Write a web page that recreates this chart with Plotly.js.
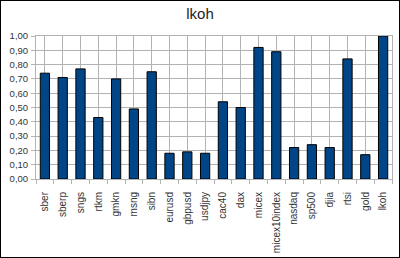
<!DOCTYPE html>
<html><head><meta charset="utf-8">
<script src="https://cdn.plot.ly/plotly-3.0.1.min.js"></script>
<style>html,body{margin:0;padding:0;background:#fff}#wrap{position:relative;width:400px;height:258px}#chart{width:400px;height:258px}#frame{position:absolute;left:0;top:0;width:400px;height:258px;box-sizing:border-box;border:1px solid #000;pointer-events:none}</style>
</head><body>
<div id="wrap"><div id="chart"></div><div id="frame"></div></div>
<script>
var categories = ["sber","sberp","sngs","rtkm","gmkn","msng","sibn","eurusd","gbpusd","usdjpy","cac40","dax","micex","micex10index","nasdaq","sp500","djia","rtsi","gold","lkoh"];
var values = [0.74,0.71,0.77,0.43,0.70,0.49,0.75,0.18,0.19,0.18,0.54,0.50,0.92,0.89,0.22,0.24,0.22,0.84,0.17,1.00];
var yTicks = [0,0.1,0.2,0.3,0.4,0.5,0.6,0.7,0.8,0.9,1.0];

var idx = categories.map(function(c, i){ return i; });
var bounds = categories.map(function(c, i){ return i - 0.5; }).concat([categories.length - 0.5]);
var FONT = 'Liberation Sans, Arial, sans-serif';
Plotly.newPlot('chart', [
 {type:'bar', x:idx, y:values,
  marker:{color:'#004586', line:{color:'#000', width:1}},
  width:0.52}
], {
  width:400, height:258,
  margin:{l:36, r:8, t:36, b:79},
  paper_bgcolor:'#fff', plot_bgcolor:'#fff',
  separators:', ',
  showlegend:false,
  title:{text:'lkoh', x:0.5, xanchor:'center', y:0.945, yanchor:'middle', font:{family:FONT, size:15, color:'#222'}},
  font:{family:FONT, size:9, color:'#333'},
  xaxis:{type:'linear', range:[-0.5, categories.length - 0.5], tickmode:'array', tickvals:idx, ticktext:categories,
         tickangle:-90, showgrid:true, gridcolor:'#b3b3b3', gridwidth:1, zeroline:false,
         showline:true, linecolor:'#b3b3b3', mirror:true, ticks:'',
         minor:{tickmode:'array', tickvals:bounds, ticks:'outside', ticklen:4, tickcolor:'#b3b3b3', showgrid:false},
         ticklabelstandoff:8, tickfont:{size:10, color:'#333'}},
  yaxis:{range:[0,1], tickvals:yTicks, tickformat:'.2f', showgrid:true, gridcolor:'#b3b3b3',
         showline:true, linecolor:'#b3b3b3', mirror:true, zeroline:false, ticks:'outside', ticklen:4, tickcolor:'#b3b3b3',
         ticklabelstandoff:1, tickfont:{size:9.5, color:'#333'}}
}, {staticPlot:true, displayModeBar:false});
</script>
</body></html>
